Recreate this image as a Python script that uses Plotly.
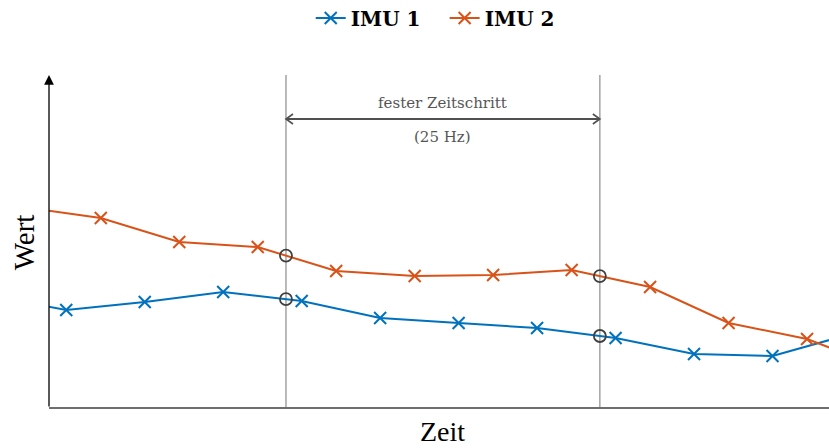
import numpy as np
import plotly.graph_objects as go

# ---- data ----
t_imu1 = [-0.8, 0.2, 1.2, 2.2, 3.2, 4.2, 5.2, 6.2, 7.2, 8.2, 9.2, 10.2]
v_imu1 = [1.13, 0.98, 1.06, 1.16, 1.07, 0.90, 0.85, 0.80, 0.70, 0.54, 0.52, 0.74]
t_imu2 = [-0.36, 0.64, 1.64, 2.64, 3.64, 4.64, 5.64, 6.64, 7.64, 8.64, 9.64, 10.64]
v_imu2 = [2.01, 1.90, 1.66, 1.61, 1.37, 1.32, 1.33, 1.38, 1.21, 0.85, 0.69, 0.39]
t_fixed = [3.0, 7.0]          # fixed time-step sampling instants
series_names = ["IMU 1", "IMU 2"]
label_top = "fester Zeitschritt"
label_bottom = "(25 Hz)"

BLUE = "#0072BD"
ORANGE = "#D95319"
SERIF = "Liberation Serif, Times New Roman, serif"
WIDE_SERIF = "DejaVu Serif, serif"

fig = go.Figure()
for i, (t, v, name, col) in enumerate([(t_imu1, v_imu1, series_names[0], BLUE),
                                       (t_imu2, v_imu2, series_names[1], ORANGE)]):
    pad = "&nbsp;&nbsp;&nbsp;" if i == 0 else ""
    fig.add_trace(go.Scatter(
        x=t, y=v, mode="lines+markers", name=f"<b>{name}</b>{pad}",
        line=dict(color=col, width=2),
        marker=dict(symbol="x-thin", size=12, line=dict(color=col, width=2)),
    ))

# interpolated points at fixed time steps
circ_x, circ_y = [], []
for t, v in [(t_imu1, v_imu1), (t_imu2, v_imu2)]:
    for tf in t_fixed:
        circ_x.append(tf)
        circ_y.append(float(np.interp(tf, t, v)))
fig.add_trace(go.Scatter(
    x=circ_x, y=circ_y, mode="markers", showlegend=False,
    marker=dict(symbol="circle-open", size=12, color="#404040",
                line=dict(color="#404040", width=1.8)),
))

shapes = []
for tf in t_fixed:
    shapes.append(dict(type="line", xref="x", yref="paper", x0=tf, x1=tf, y0=0, y1=1,
                       line=dict(color="#8c8c8c", width=1.2), layer="below"))
# x axis line (gray)
shapes.append(dict(type="line", xref="paper", yref="paper", x0=0, x1=1, y0=0, y1=0,
                   line=dict(color="#6e6e6e", width=2)))
# double arrow
ya = 2.89
shapes.append(dict(type="line", xref="x", yref="y", x0=t_fixed[0], x1=t_fixed[1], y0=ya, y1=ya,
                   line=dict(color="#505050", width=2)))
shapes.append(dict(type="path", xref="x", yref="y", xsizemode="pixel", ysizemode="pixel",
                   xanchor=t_fixed[1], yanchor=ya, path="M -7,5 L 0,0 L -7,-5",
                   line=dict(color="#505050", width=1.6)))
shapes.append(dict(type="path", xref="x", yref="y", xsizemode="pixel", ysizemode="pixel",
                   xanchor=t_fixed[0], yanchor=ya, path="M 7,5 L 0,0 L 7,-5",
                   line=dict(color="#505050", width=1.6)))

mid = (t_fixed[0] + t_fixed[1]) / 2
annotations = [
    # y axis arrow
    dict(xref="paper", yref="paper", x=0, y=1, ax=0, ay=333, axref="pixel", ayref="pixel",
         showarrow=True, arrowhead=2, arrowsize=1.5, arrowwidth=1.3, arrowcolor="black", text=""),
    dict(xref="x", yref="y", x=mid, y=3.05, text=label_top, showarrow=False,
         xanchor="center", yanchor="middle",
         font=dict(family=WIDE_SERIF, size=15, color="#555555")),
    dict(xref="x", yref="y", x=mid, y=2.71, text=label_bottom, showarrow=False,
         xanchor="center", yanchor="middle",
         font=dict(family=WIDE_SERIF, size=15, color="#555555")),
    dict(xref="paper", yref="paper", x=-0.032, y=0.498, text="Wert", textangle=-90,
         xanchor="center", yanchor="middle",
         showarrow=False, font=dict(family=SERIF, size=29, color="black")),
    dict(xref="paper", yref="paper", x=0.505, y=-0.072, text="Zeit",
         xanchor="center", yanchor="middle",
         showarrow=False, font=dict(family=SERIF, size=28, color="black")),
]

fig.update_layout(
    width=829, height=448,
    margin=dict(l=49, r=0, t=75, b=40),
    paper_bgcolor="white", plot_bgcolor="white",
    xaxis=dict(range=[-0.02, 9.92], showgrid=False, zeroline=False, showticklabels=False,
               ticks="", showline=False),
    yaxis=dict(range=[0, 3.33], showgrid=False, zeroline=False, showticklabels=False,
               ticks="", showline=False),
    shapes=shapes, annotations=annotations,
    legend=dict(orientation="h", xref="container", yref="container", x=0.525, y=0.96,
                xanchor="center", yanchor="middle",
                font=dict(family=WIDE_SERIF, size=20, color="black"),
                itemwidth=30),
    showlegend=True,
)

fig.write_html("out.html")
